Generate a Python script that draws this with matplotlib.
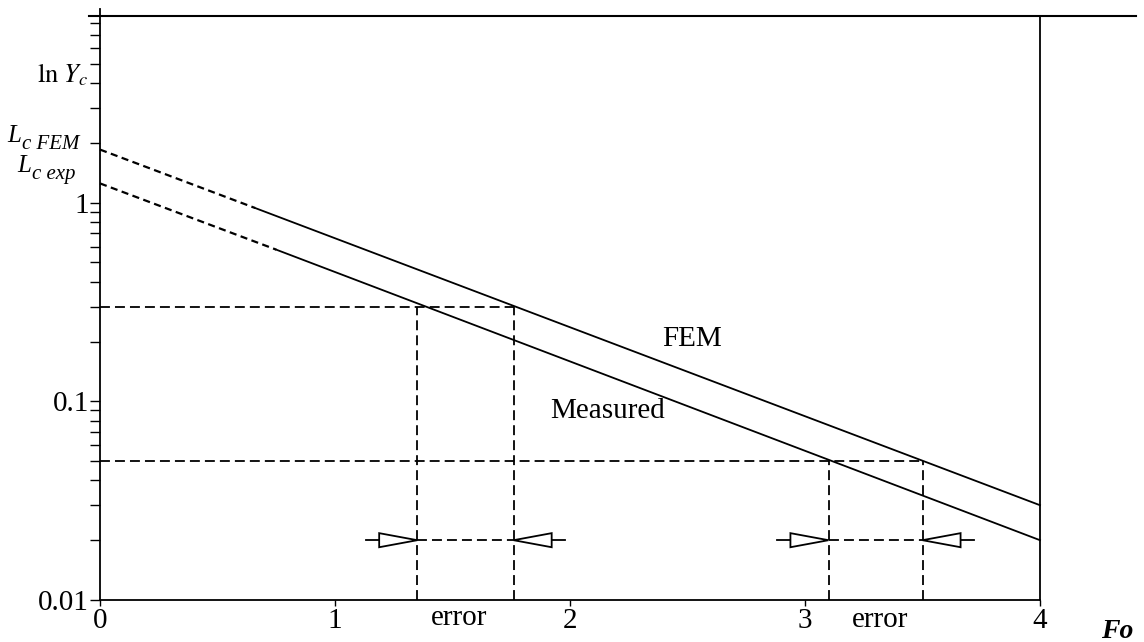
import numpy as np
import matplotlib.pyplot as plt
from matplotlib.ticker import FixedLocator, LogLocator, NullFormatter

plt.rcParams['font.family'] = 'Liberation Serif'
plt.rcParams['mathtext.fontset'] = 'stix'

# ln Yc against Fo, straight in the log plot; first point at Fo=0 is the extrapolation
fem_fo = [0.0, 0.66, 4.0]
fem_y = [1.85, 0.94, 0.030]
meas_fo = [0.0, 0.75, 4.0]
meas_y = [1.25, 0.58, 0.020]

# reading levels and where each curve crosses them
levels = [0.3, 0.05]
cross_meas = [1.35, 3.10]
cross_fem = [1.76, 3.50]
err_y = 0.02

ymin, ymax = 0.01, 8.7
fs = 21

fig = plt.figure(figsize=(11.44, 6.42), dpi=100)
ax = fig.add_axes([100 / 1144, 1 - 600 / 642, 940 / 1144, 584 / 642])
ax.set_yscale('log')
ax.set_xlim(0, 4)
ax.set_ylim(ymin, ymax)

lw = 1.3
dash = (0, (5.5, 2.8))
dots = (0, (3.2, 2.0))

for fo, y in [(fem_fo, fem_y), (meas_fo, meas_y)]:
    ax.plot(fo[:2], y[:2], color='k', lw=1.6, ls=dots, clip_on=False)
    ax.plot(fo[1:], y[1:], color='k', lw=lw, clip_on=False)

for lvl, xm, xf in zip(levels, cross_meas, cross_fem):
    ax.plot([0, xf], [lvl, lvl], color='k', lw=lw, ls=dash)
    ax.plot([xm, xm], [ymin, lvl], color='k', lw=lw, ls=dash)
    ax.plot([xf, xf], [ymin, lvl], color='k', lw=lw, ls=dash)
    ax.plot([xm, xf], [err_y, err_y], color='k', lw=lw, ls=dash)

    # open arrowheads outside the interval, pointing in at the two crossings
    L, t, k = 0.162, 0.056, 1.085
    for tip, d in [(xm, -1), (xf, 1)]:
        base = tip + d * L
        ax.fill([tip, base, base, tip], [err_y, err_y * k, err_y / k, err_y],
                facecolor='white', edgecolor='k', lw=lw, zorder=3)
        ax.plot([base, base + d * t], [err_y, err_y], color='k', lw=lw)

ax.text(2.52, 0.206, 'FEM', fontsize=fs, ha='center', va='center')
ax.text(2.16, 0.089, 'Measured', fontsize=fs, ha='center', va='center')

xt = ax.get_xaxis_transform()
ax.text(1.53, -0.031, 'error', fontsize=fs, ha='center', va='center', transform=xt)
ax.text(3.32, -0.034, 'error', fontsize=fs, ha='center', va='center', transform=xt)
ax.text(4.33, -0.065, 'Fo', fontsize=20, style='italic', weight='bold',
        ha='center', va='baseline', transform=xt)

yt = ax.get_yaxis_transform()
ax.text(-0.012, 4.04, r'$\ln\,Y_c$', fontsize=19, ha='right', va='baseline', transform=yt)

# L with its subscript written as two pieces so the subscript stays large
for xl, xs, yb, sub in [(-0.0989, -0.083, 2.01, 'c FEM'), (-0.0883, -0.0725, 1.42, 'c exp')]:
    ax.text(xl, yb, 'L', fontsize=18, style='italic', ha='left', va='baseline',
            transform=yt)
    ax.annotate(sub, xy=(xs, yb), xycoords=yt, xytext=(0, -5),
                textcoords='offset points', fontsize=15, style='italic',
                ha='left', va='baseline')

# ticks
ax.yaxis.set_major_locator(FixedLocator([0.01, 0.1, 1]))
ax.set_yticklabels(['0.01', '0.1', '1'])
ax.yaxis.set_minor_locator(LogLocator(base=10, subs=np.arange(2, 10)))
ax.yaxis.set_minor_formatter(NullFormatter())
ax.tick_params(axis='y', which='both', direction='out', length=7, width=1,
               labelsize=fs, pad=1)
ax.set_xticks([0, 1, 2, 3, 4])
ax.set_xticklabels(['0', '1', '2', '3', '4'])
ax.tick_params(axis='x', direction='out', length=4, width=1, labelsize=fs, pad=2)

ax.spines['top'].set_visible(False)
for s in ['left', 'bottom', 'right']:
    ax.spines[s].set_linewidth(lw)

# long top rule and the left axis running slightly past it
ax.plot([-0.045, 4.41], [ymax, ymax], color='k', lw=1.5, clip_on=False)
ax.plot([0, 0], [ymax, ymax * 1.09], color='k', lw=lw, clip_on=False)

fig.savefig('out.png', dpi=100)
